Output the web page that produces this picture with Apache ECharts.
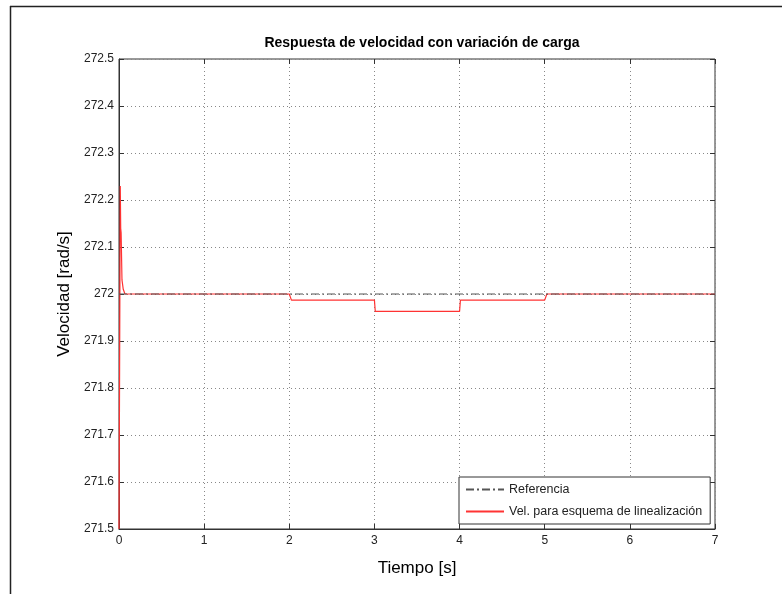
<!DOCTYPE html>
<html>
<head>
<meta charset="utf-8">
<script src="https://cdn.jsdelivr.net/npm/echarts@6/dist/echarts.min.js"></script>
<style>
  html, body { margin: 0; padding: 0; background: #fff; }
  #chart { width: 782px; height: 594px; }
</style>
</head>
<body>
<div id="chart"></div>
<script>
// tiempo [s] y velocidad [rad/s]
var refTime = [0, 7];
var refVel = [272, 272];

var velTime = [0, 0.015, 0.02, 0.025, 0.035, 0.05, 0.07, 2.0, 2.025, 3.0, 3.01, 4.0, 4.01, 5.0, 5.025, 7.0];
var velVal = [271.5, 272.23, 272.14, 272.13, 272.03, 272.01, 272.0, 272.0, 271.987, 271.987, 271.963, 271.963, 271.987, 271.987, 272.0, 272.0];

var xTicks = [0, 7, 1];          // min, max, interval
var yTicks = [271.5, 272.5, 0.1];

function pairs(xs, ys) {
  var out = [];
  for (var i = 0; i < xs.length; i++) out.push([xs[i], ys[i]]);
  return out;
}

var font = 'Liberation Sans, Arial, sans-serif';
var chart = echarts.init(document.getElementById('chart'));

var tick = { show: true, inside: true, length: 5, lineStyle: { color: '#333' } };

var option = {
  backgroundColor: '#fff',
  animation: false,
  title: {
    text: 'Respuesta de velocidad con variación de carga',
    left: 417, top: 31, textAlign: 'center',
    textStyle: { fontFamily: font, fontSize: 14, fontWeight: 'bold', color: '#000' }
  },
  legend: {
    orient: 'vertical',
    left: 459, top: 477,
    backgroundColor: '#fff',
    borderColor: '#333', borderWidth: 1, borderRadius: 0,
    padding: [6, 8, 6, 6],
    itemWidth: 38, itemHeight: 12, itemGap: 9,
    itemStyle: { opacity: 0 },
    textStyle: { fontFamily: font, fontSize: 12.5, color: '#222' },
    data: ['Referencia', 'Vel. para esquema de linealización']
  },
  grid: {
    left: 119, right: 67, top: 59, bottom: 65,
    show: true, borderColor: '#333', borderWidth: 1, backgroundColor: '#fff'
  },
  xAxis: [{
    type: 'value', min: xTicks[0], max: xTicks[1], interval: xTicks[2],
    name: 'Tiempo [s]', nameLocation: 'middle', nameGap: 31,
    nameTextStyle: { fontFamily: font, fontSize: 17, color: '#000' },
    axisLine: { onZero: false, lineStyle: { color: '#333' } },
    axisTick: tick,
    axisLabel: { fontFamily: font, fontSize: 12, color: '#222', margin: 6 },
    splitLine: { show: true, lineStyle: { color: '#888', type: [1, 3] } }
  }, {
    type: 'value', position: 'top', min: xTicks[0], max: xTicks[1], interval: xTicks[2],
    axisLine: { show: false, onZero: false },
    axisTick: tick,
    axisLabel: { show: false }, splitLine: { show: false }
  }],
  yAxis: [{
    type: 'value', position: 'left', min: yTicks[0], max: yTicks[1], interval: yTicks[2],
    name: 'Velocidad [rad/s]', nameLocation: 'middle', nameGap: 42,
    nameTextStyle: { fontFamily: font, fontSize: 17, color: '#000' },
    axisLine: { onZero: false, lineStyle: { color: '#333' } },
    axisTick: tick,
    axisLabel: {
      fontFamily: font, fontSize: 12, color: '#222', margin: 5,
      formatter: function (v) { return String(Number(v.toFixed(1))); }
    },
    splitLine: { show: true, lineStyle: { color: '#888', type: [1, 3] } }
  }, {
    type: 'value', position: 'right', min: yTicks[0], max: yTicks[1], interval: yTicks[2],
    axisLine: { show: false, onZero: false },
    axisTick: tick,
    axisLabel: { show: false }, splitLine: { show: false }
  }],
  series: [{
    name: 'Referencia',
    type: 'line', showSymbol: false, symbol: 'none',
    data: pairs(refTime, refVel),
    lineStyle: { color: '#555', width: 1, type: [8, 3, 2, 3] },
    itemStyle: { color: '#555' },
    z: 3
  }, {
    name: 'Vel. para esquema de linealización',
    type: 'line', showSymbol: false, symbol: 'none',
    data: pairs(velTime, velVal),
    lineStyle: { color: '#ff3333', width: 1.2 },
    itemStyle: { color: '#ff3333' },
    z: 2
  }],
  graphic: [
    { type: 'line', shape: { x1: 10, y1: 6.5, x2: 782, y2: 6.5 }, style: { stroke: '#222', lineWidth: 1.5 } },
    { type: 'line', shape: { x1: 10.5, y1: 6, x2: 10.5, y2: 594 }, style: { stroke: '#222', lineWidth: 1.5 } }
  ]
};

chart.setOption(option);
</script>
</body>
</html>
